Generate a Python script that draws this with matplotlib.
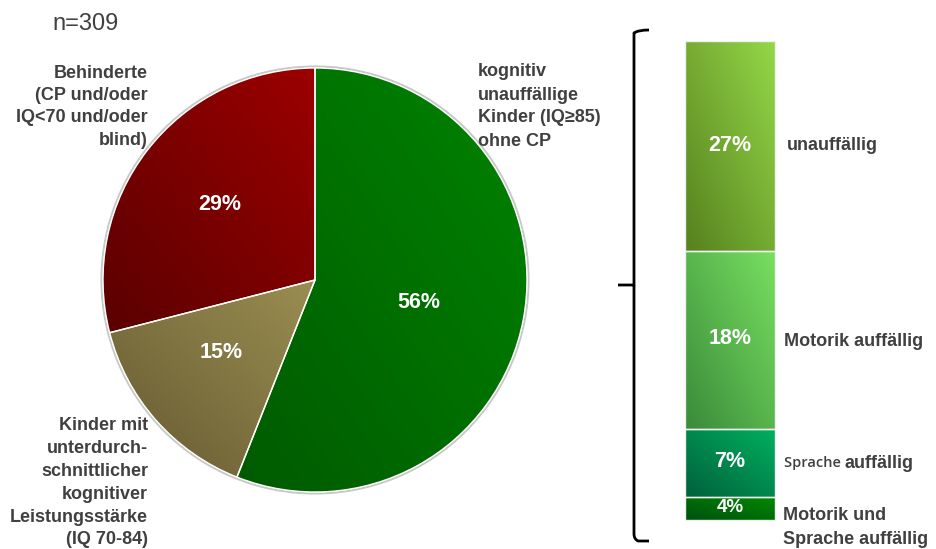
import numpy as np
import matplotlib
matplotlib.use("Agg")
import matplotlib.pyplot as plt
from matplotlib.colors import LinearSegmentedColormap
from matplotlib.path import Path
from matplotlib.patches import PathPatch

plt.rcParams['font.family'] = ['Liberation Sans', 'DejaVu Sans']

# pie data
pie_values = [56, 15, 29]
pie_labels = ['56%', '15%', '29%']
pie_dark = ['#005a00', '#665a32', '#5a0000']
pie_light = ['#008400', '#9a8e52', '#9c0000']

# stacked bar (breakdown of the 56%), heights as drawn, bottom to top
bar_heights = [2.7, 8.0, 20.8, 24.6]
bar_labels = ['4%', '7%', '18%', '27%']
bar_dark = ['#005010', '#00603a', '#3a8a3a', '#56801e']
bar_light = ['#008a00', '#00b060', '#78e060', '#94d848']

W, H = 936, 549
fig = plt.figure(figsize=(W / 100, H / 100), dpi=100)
ax = fig.add_axes([0, 0, 1, 1])


def Y(y):
    return H - y


def gradient_fill(patch, c0, c1):
    x0, y0, x1, y1 = patch.get_path().transformed(patch.get_patch_transform()).get_extents().extents
    n = 200
    gx, gy = np.meshgrid(np.linspace(0, 1, n), np.linspace(0, 1, n))
    g = (gx + gy) / 2
    cmap = LinearSegmentedColormap.from_list('g', [c0, c1])
    im = ax.imshow(g, cmap=cmap, extent=(x0, x1, y0, y1), origin='lower',
                   aspect='auto', zorder=patch.get_zorder() - 0.1)
    im.set_clip_path(patch)


def lines(x, y0, step, txt, ha, size=13):
    for i, s in enumerate(txt):
        ax.text(x, Y(y0 + i * step), s, color=grey, fontsize=size, fontweight='bold',
                ha=ha, va='center')


grey = '#404040'

# pie
cx, cy, r = 315, Y(280), 212
wedges, _ = ax.pie(pie_values, startangle=90, counterclock=False, center=(cx, cy),
                   radius=r, wedgeprops=dict(edgecolor='white', linewidth=1.0),
                   frame=True)
ax.set_xlim(0, W)
ax.set_ylim(0, H)
ax.set_aspect('auto')
ax.axis('off')

for w, c0, c1 in zip(wedges, pie_dark, pie_light):
    w.set_facecolor('none')
    w.set_zorder(3)
    gradient_fill(w, c0, c1)

# soft rim
ax.add_patch(plt.Circle((cx, cy), r + 1.5, facecolor='none', edgecolor='#c8c8c8',
                        linewidth=1.5, zorder=1))

pie_txt_pos = [(419, 302), (221, 352), (220, 205)]
for (x, y), t in zip(pie_txt_pos, pie_labels):
    ax.text(x, Y(y), t, color='white', fontsize=15.5, fontweight='bold',
            ha='center', va='center', zorder=5)

# stacked bar
bx0, bx1 = 685, 775
btop, bbot = 41, 520
scale = (bbot - btop) / sum(bar_heights)
bottom = Y(bbot)
bar_txt_size = [13.5, 15.5, 15.5, 15.5]
for h, lab, c0, c1, fs in zip(bar_heights, bar_labels, bar_dark, bar_light, bar_txt_size):
    bars = ax.bar(bx0, h * scale, width=bx1 - bx0, bottom=bottom, align='edge',
                  facecolor='none', edgecolor='#f0f0f0', linewidth=1.0, zorder=3)
    gradient_fill(bars[0], c0, c1)
    ax.text((bx0 + bx1) / 2, bottom + h * scale / 2 + 1, lab, color='white', fontsize=fs,
            fontweight='bold', ha='center', va='center', zorder=5)
    bottom += h * scale

# curly bracket
verts = [(649, Y(30)), (638, Y(30)), (634, Y(33)), (634, Y(38)), (634, Y(285)),
         (618, Y(285)), (634, Y(285)), (634, Y(534)), (634, Y(539)), (638, Y(541)),
         (649, Y(541))]
codes = [Path.MOVETO, Path.CURVE3, Path.CURVE3, Path.LINETO, Path.LINETO, Path.LINETO,
         Path.MOVETO, Path.LINETO, Path.CURVE3, Path.CURVE3, Path.LINETO]
ax.add_patch(PathPatch(Path(verts, codes), facecolor='none', edgecolor='black',
                       linewidth=2.0, capstyle='butt', joinstyle='round', zorder=4))

# texts
ax.text(52, Y(24), 'n=309', color=grey, fontsize=17, ha='left', va='center')

lines(148, 73, 22.4, ['Behinderte', '(CP und/oder', 'IQ<70 und/oder', 'blind)'], 'right')
lines(478, 72, 23.0, ['kognitiv', 'unauffällige', 'Kinder (IQ≥85)', 'ohne CP'], 'left')
lines(148, 426, 22.8, ['Kinder mit', 'unterdurch-', 'schnittlicher', 'kognitiver',
                       'Leistungsstärke', '(IQ 70-84)'], 'right')

lines(787, 146, 0, ['unauffällig'], 'left')
lines(784, 342, 0, ['Motorik auffällig'], 'left')
t1 = ax.text(784, Y(463), 'Sprache ', color=grey, fontsize=10.5, fontfamily='Open Sans',
             fontweight='semibold', ha='left', va='center')
fig.canvas.draw()
bb = t1.get_window_extent()
lines(bb.x1, 463, 0, ['auffällig'], 'left')
lines(783, 516, 23, ['Motorik und', 'Sprache auffällig'], 'left')

fig.savefig('out.png', dpi=100)
